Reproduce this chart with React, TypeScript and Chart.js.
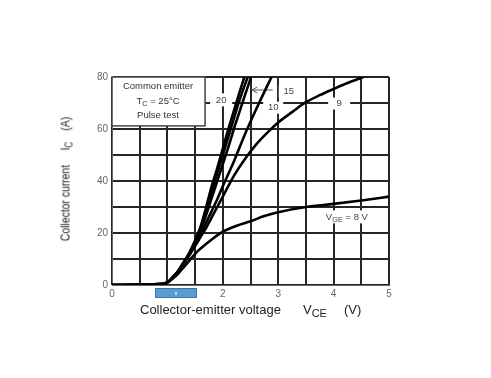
import React, { useEffect, useRef } from 'react';
import { Chart, registerables } from 'chart.js';

Chart.register(...registerables);

// ---- Data (VCE in volts, IC in amperes) ----
const vce20 = [0, 0.9, 1.0, 1.1, 1.2, 1.3, 1.4, 1.5, 1.6, 1.7, 1.8, 1.9, 2.0, 2.1, 2.2, 2.3, 2.39];
const ic20 = [0, 0.4, 1, 3, 5.5, 9, 12.5, 17, 22.5, 30, 38, 45, 52.5, 60, 67, 74, 80];

const vce15 = [0, 0.9, 1.0, 1.1, 1.2, 1.3, 1.4, 1.5, 1.6, 1.7, 1.8, 1.9, 2.0, 2.1, 2.2, 2.3, 2.45];
const ic15 = [0, 0.4, 1, 3, 5.5, 9, 12.5, 17, 22, 28.5, 36, 43, 50, 57, 64, 71, 80];

const vce12 = [0, 0.9, 1.0, 1.1, 1.2, 1.3, 1.4, 1.5, 1.6, 1.7, 1.8, 1.9, 2.0, 2.1, 2.2, 2.3, 2.4, 2.51];
const ic12 = [0, 0.4, 1, 3, 5.5, 8.5, 12, 16, 21, 27, 33.5, 40, 46.5, 53, 60, 66.5, 73, 80];

const vce10 = [0, 0.9, 1.0, 1.1, 1.2, 1.3, 1.4, 1.5, 1.6, 1.7, 1.8, 1.9, 2.0, 2.2, 2.4, 2.6, 2.8, 2.88];
const ic10 = [0, 0.4, 1, 3, 5.5, 8.5, 12, 15.5, 19.5, 24, 28.5, 33, 38, 47.5, 58, 67.5, 76.5, 80];

const vce9 = [0, 0.9, 1.0, 1.1, 1.2, 1.3, 1.4, 1.5, 1.6, 1.7, 1.8, 1.9, 2.0, 2.2, 2.4, 2.6, 2.8, 3.0, 3.25, 3.5, 3.75, 4.0, 4.25, 4.54];
const ic9 = [0, 0.4, 1, 3, 5.5, 8.5, 11.5, 15, 18.5, 22, 26, 30, 34, 42, 48.5, 54, 58.5, 62.5, 66.5, 70.3, 73, 75.4, 77.7, 80];

const vce8 = [0, 0.9, 1.0, 1.1, 1.2, 1.3, 1.4, 1.5, 1.6, 1.8, 2.0, 2.25, 2.5, 2.75, 3.0, 3.5, 4.0, 4.5, 5.0];
const ic8 = [0, 0.4, 1, 2.5, 4.5, 7, 9.5, 12, 14, 17.5, 20.5, 22.8, 24.5, 26.5, 28, 30, 31.2, 32.5, 34];

const vgeLabels = ['20', '15', '12', '10', '9', '8'];
const xTickLabels = ['0', '1', '2', '3', '4', '5'];
const yTickLabels = ['0', '20', '40', '60', '80'];

const FONT = '"Liberation Sans", Arial, Helvetica, sans-serif';

type Part = { t: string; sub?: boolean };

function drawRich(ctx: CanvasRenderingContext2D, parts: Part[], cx: number, cy: number, size: number, color: string) {
  let w = 0;
  const widths: number[] = [];
  for (const p of parts) {
    ctx.font = `${p.sub ? size * 0.78 : size}px ${FONT}`;
    const m = ctx.measureText(p.t).width;
    widths.push(m);
    w += m;
  }
  let x = cx - w / 2;
  ctx.fillStyle = color;
  ctx.textBaseline = 'middle';
  ctx.textAlign = 'left';
  parts.forEach((p, i) => {
    ctx.font = `${p.sub ? size * 0.78 : size}px ${FONT}`;
    ctx.fillText(p.t, x, p.sub ? cy + size * 0.3 : cy);
    x += widths[i];
  });
}

// label annotations: data-space anchor + white background size
const curveLabels: { parts: Part[]; v: number; a: number; w: number; h: number }[] = [
  { parts: [{ t: '20' }], v: 1.97, a: 71.2, w: 22, h: 13 },
  { parts: [{ t: '15' }], v: 3.19, a: 74.4, w: 20, h: 13 },
  { parts: [{ t: '10' }], v: 2.91, a: 68.2, w: 20, h: 12 },
  { parts: [{ t: '9' }], v: 4.1, a: 69.8, w: 22, h: 12 },
  { parts: [{ t: 'V' }, { t: 'GE', sub: true }, { t: ' = 8 V' }], v: 4.24, a: 26.2, w: 56, h: 13 },
];

const annotationPlugin = {
  id: 'annotations',
  beforeDatasetsDraw(chart: any) {
    const ctx: CanvasRenderingContext2D = chart.ctx;
    const xs = chart.scales.x;
    const ys = chart.scales.y;
    ctx.save();
    // info box
    const bx0 = xs.getPixelForValue(0);
    const bx1 = xs.getPixelForValue(1.68);
    const by0 = ys.getPixelForValue(80);
    const by1 = ys.getPixelForValue(61.2);
    ctx.fillStyle = '#fff';
    ctx.fillRect(bx0, by0, bx1 - bx0, by1 - by0);
    ctx.strokeStyle = '#444';
    ctx.lineWidth = 1.5;
    ctx.strokeRect(bx0, by0, bx1 - bx0, by1 - by0);
    const bcx = xs.getPixelForValue(0.83);
    drawRich(ctx, [{ t: 'Common emitter' }], bcx, ys.getPixelForValue(76.4), 9.5, '#333');
    drawRich(ctx, [{ t: 'T' }, { t: 'C', sub: true }, { t: ' = 25°C' }], bcx, ys.getPixelForValue(70.8), 9.5, '#333');
    drawRich(ctx, [{ t: 'Pulse test' }], bcx, ys.getPixelForValue(65.3), 9.5, '#333');

    // curve labels
    for (const l of curveLabels) {
      const cx = xs.getPixelForValue(l.v);
      const cy = ys.getPixelForValue(l.a);
      ctx.fillStyle = '#fff';
      ctx.fillRect(cx - l.w / 2, cy - l.h / 2, l.w, l.h);
      drawRich(ctx, l.parts, cx, cy, 9.5, '#444');
    }

    // arrow from "15"
    const ax0 = xs.getPixelForValue(2.9);
    const ax1 = xs.getPixelForValue(2.53);
    const ay = ys.getPixelForValue(75);
    ctx.strokeStyle = '#555';
    ctx.lineWidth = 1;
    ctx.beginPath();
    ctx.moveTo(ax0, ay);
    ctx.lineTo(ax1, ay);
    ctx.stroke();
    ctx.beginPath();
    ctx.moveTo(ax1 + 5, ay - 3);
    ctx.lineTo(ax1, ay);
    ctx.lineTo(ax1 + 5, ay + 3);
    ctx.stroke();
    ctx.restore();
  },
};

export default function App() {
  const ref = useRef<HTMLCanvasElement | null>(null);

  useEffect(() => {
    if (!ref.current) return;
    const series = [
      [vce20, ic20],
      [vce15, ic15],
      [vce12, ic12],
      [vce10, ic10],
      [vce9, ic9],
      [vce8, ic8],
    ];
    const datasets = series.map(([xs, ys], i) => ({
      label: `VGE = ${vgeLabels[i]} V`,
      data: xs.map((x, j) => ({ x, y: ys[j] })),
      borderColor: '#000',
      borderWidth: 2.6,
      pointRadius: 0,
      fill: false,
      cubicInterpolationMode: 'monotone' as const,
    }));
    const gridColor = '#262626';
    const chart = new Chart(ref.current, {
      type: 'line',
      data: { datasets },
      plugins: [annotationPlugin],
      options: {
        animation: false,
        responsive: false,
        layout: { padding: { left: 0, top: 77, right: 102, bottom: 63 } },
        plugins: { legend: { display: false }, tooltip: { enabled: false } },
        scales: {
          x: {
            type: 'linear',
            min: 0,
            max: 5,
            afterFit: (s: any) => {
              s.height = 30;
            },
            grid: { color: gridColor, lineWidth: 2, drawTicks: false },
            border: { display: true, color: '#666', width: 1 },
            ticks: {
              stepSize: 0.5,
              padding: 3,
              color: '#666',
              font: { family: FONT, size: 10 },
              maxRotation: 0,
              autoSkip: false,
              callback: (v: any) => {
                const n = Number(v);
                return Number.isInteger(n) ? xTickLabels[n] : '';
              },
            },
          },
          y: {
            type: 'linear',
            min: 0,
            max: 80,
            afterFit: (s: any) => {
              s.width = 112;
            },
            grid: { color: gridColor, lineWidth: 2, drawTicks: false },
            border: { display: true, color: '#666', width: 1 },
            ticks: {
              stepSize: 10,
              padding: 4,
              color: '#666',
              font: { family: FONT, size: 10 },
              autoSkip: false,
              callback: (v: any) => {
                const n = Number(v);
                return n % 20 === 0 ? yTickLabels[n / 20] : '';
              },
            },
          },
        },
      },
    });
    return () => chart.destroy();
  }, []);

  const titleStyle: React.CSSProperties = {
    position: 'absolute',
    fontFamily: FONT,
    fontSize: 13,
    color: '#222',
    whiteSpace: 'nowrap',
    lineHeight: '15px',
  };

  return (
    <div style={{ position: 'absolute', left: 0, top: 0, width: 491, height: 378, background: '#fff' }}>
      <canvas ref={ref} width={491} height={378} style={{ display: 'block' }} />
      <div
        style={{
          ...titleStyle,
          left: 67,
          top: 179,
          transform: 'translate(-50%, -50%) rotate(-90deg) scaleX(0.8)',
        }}
      >
        Collector current
        <span style={{ marginLeft: 18 }}>
          I<sub style={{ fontSize: 10, verticalAlign: '-3px' }}>C</sub>
        </span>
        <span style={{ marginLeft: 14 }}>(A)</span>
      </div>
      <div style={{ ...titleStyle, left: 140, top: 302 }}>Collector-emitter voltage</div>
      <div style={{ ...titleStyle, left: 303, top: 302 }}>
        V<sub style={{ fontSize: 11, verticalAlign: '-3px' }}>CE</sub>
      </div>
      <div style={{ ...titleStyle, left: 344, top: 302 }}>(V)</div>
      <div
        style={{
          position: 'absolute',
          left: 155,
          top: 288,
          width: 42,
          height: 10,
          boxSizing: 'border-box',
          background: '#5b9bd5',
          border: '1px solid #41719c',
          color: '#fff',
          fontFamily: FONT,
          fontSize: 6,
          lineHeight: '8px',
          textAlign: 'center',
        }}
      >
        ιι
      </div>
    </div>
  );
}
